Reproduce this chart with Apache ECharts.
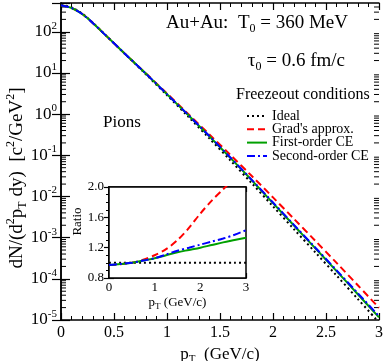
<!DOCTYPE html>
<html>
<head>
<meta charset="utf-8">
<script src="https://cdn.jsdelivr.net/npm/echarts@6/dist/echarts.min.js"></script>
<style>
  html, body { margin: 0; padding: 0; background: #fff; }
  #chart { width: 386px; height: 361px; }
</style>
</head>
<body>
<div id="chart"></div>
<script>
// spectra, main panel
var pT = [0, 0.1, 0.2, 0.3, 0.4, 0.6, 0.8, 1.0, 1.2, 1.4, 1.6, 1.8, 2.0, 2.2, 2.4, 2.6, 2.8, 3.0];
var idealSpec = [457, 389, 275, 166, 93.3, 29.5, 9.33, 2.88, 0.871, 0.257, 0.0741, 0.0209, 5.75e-3, 1.58e-3, 4.37e-4, 1.20e-4, 3.24e-5, 8.7e-6];
var gradSpec = [443, 379, 270, 164, 92.8, 29.8, 9.80, 3.17, 1.01, 0.321, 0.101, 0.0314, 9.49e-3, 2.83e-3, 8.35e-4, 2.44e-4, 6.97e-5, 1.98e-5];
var firstSpec = [443, 379, 270, 164, 92.8, 29.8, 9.66, 3.05, 0.949, 0.289, 0.0856, 0.0247, 6.9e-3, 1.94e-3, 5.48e-4, 1.54e-4, 4.23e-5, 1.16e-5];
var secondSpec = [443, 379, 270, 164, 92.8, 29.8, 9.66, 3.05, 0.958, 0.293, 0.0874, 0.0253, 7.13e-3, 2.01e-3, 5.68e-4, 1.61e-4, 4.47e-5, 1.24e-5];

// ratio, inset
var pTRatio = [0, 0.25, 0.5, 0.75, 1, 1.25, 1.5, 1.75, 2, 2.25, 2.5, 2.75, 3];
var idealRatio = [1, 1, 1, 1, 1, 1, 1, 1, 1, 1, 1, 1, 1];
var gradRatio = [0.97, 0.98, 1.0, 1.04, 1.10, 1.18, 1.30, 1.46, 1.65, 1.82, 1.97, 2.12, 2.28];
var firstRatio = [0.97, 0.985, 1.0, 1.03, 1.06, 1.10, 1.14, 1.17, 1.20, 1.235, 1.27, 1.30, 1.33];
var secondRatio = [0.97, 0.985, 1.0, 1.03, 1.06, 1.11, 1.16, 1.20, 1.24, 1.28, 1.32, 1.37, 1.43];

var legendNames = ['Ideal', "Grad's approx.", 'First-order CE', 'Second-order CE'];

// minor ticks of the log axis (2..9 per decade)
var minorVals = [];
for (var e = -5; e <= 2; e++) {
    for (var k = 2; k <= 9; k++) {
        var v = k * Math.pow(10, e);
        if (v < 500) minorVals.push([0, v]);
    }
}

var FONT = 'Liberation Serif';

function zip(xs, ys) {
    var out = [];
    for (var i = 0; i < xs.length; i++) out.push([xs[i], ys[i]]);
    return out;
}

var styles = [
    { color: '#000000', type: [2, 3] },
    { color: '#ff0000', type: [7, 4] },
    { color: '#00a000', type: 'solid' },
    { color: '#0000ff', type: [8, 3, 2, 3] }
];

var myChart = echarts.init(document.getElementById('chart'));

var subRich = {
    b: { fontSize: 17, fontFamily: FONT, color: '#000' },
    sup: { fontSize: 11, fontFamily: FONT, color: '#000', padding: [0, 0, 12, 0] },
    sub: { fontSize: 11, fontFamily: FONT, color: '#000', padding: [10, 0, 0, 0] }
};
var nameRich = {
    b: { fontSize: 19, fontFamily: FONT, color: '#000' },
    sup: { fontSize: 12, fontFamily: FONT, color: '#000', padding: [0, 0, 13, 0] },
    sub: { fontSize: 12, fontFamily: FONT, color: '#000', padding: [11, 0, 0, 0] }
};
var subRichSmall = {
    b: { fontSize: 13, fontFamily: FONT, color: '#000' },
    sub: { fontSize: 9, fontFamily: FONT, color: '#000', padding: [8, 0, 0, 0] }
};

function logLabel(v) {
    var l = Math.log10(v);
    var n = Math.round(l);
    if (Math.abs(l - n) > 1e-6) return '';
    return '{b|10}{sup|' + n + '}';
}

var axisLine = { lineStyle: { color: '#000', width: 1.5 } };

var series = [];
var specs = [idealSpec, gradSpec, firstSpec, secondSpec];
var ratios = [idealRatio, gradRatio, firstRatio, secondRatio];
for (var i = 0; i < 4; i++) {
    series.push({
        name: legendNames[i],
        type: 'line',
        xAxisIndex: 0,
        yAxisIndex: 0,
        data: zip(pT, specs[i]),
        smooth: 0.3,
        symbol: 'none',
        lineStyle: { color: styles[i].color, type: styles[i].type, width: 2 },
        itemStyle: { color: styles[i].color },
        z: 3 + i
    });
}
for (var i = 0; i < 4; i++) {
    series.push({
        name: 'ratio ' + i,
        type: 'line',
        xAxisIndex: 2,
        yAxisIndex: 2,
        data: zip(pTRatio, ratios[i]),
        smooth: 0.3,
        symbol: 'none',
        lineStyle: { color: styles[i].color, type: styles[i].type, width: 2 },
        z: 3 + i
    });
}
series.push({
    type: 'custom',
    xAxisIndex: 0,
    yAxisIndex: 0,
    data: minorVals,
    silent: true,
    renderItem: function(params, api) {
        var v = api.value(1);
        var l = api.coord([0, v]);
        var r = api.coord([3, v]);
        return {
            type: 'group',
            children: [
                { type: 'line', shape: { x1: l[0], y1: l[1], x2: l[0] + 5, y2: l[1] }, style: { stroke: '#000', lineWidth: 1 } },
                { type: 'line', shape: { x1: r[0] - 5, y1: r[1], x2: r[0], y2: r[1] }, style: { stroke: '#000', lineWidth: 1 } }
            ]
        };
    }
});

var option = {
    animation: false,
    backgroundColor: '#fff',
    grid: [
        { left: 61, top: 3, right: 7, bottom: 41, outerBoundsMode: 'none', containLabel: false },
        { left: 109, top: 187, right: 140, bottom: 83, outerBoundsMode: 'none', containLabel: false,
          show: true, backgroundColor: '#fff', borderColor: '#000', borderWidth: 1.5, z: 1 }
    ],
    legend: {
        data: legendNames,
        orient: 'vertical',
        left: 246,
        top: 109,
        padding: 0,
        itemWidth: 20,
        itemHeight: 8,
        itemGap: -0.7,
        selectedMode: false,
        itemStyle: { opacity: 0 },
        textStyle: { fontFamily: FONT, fontSize: 14, color: '#000', lineHeight: 12 }
    },
    xAxis: [
        {
            type: 'value', gridIndex: 0, min: 0, max: 3, interval: 0.5, position: 'bottom',
            axisLine: axisLine,
            axisTick: { inside: true, length: 7, lineStyle: { color: '#000', width: 1.2 } },
            minorTick: { show: true, splitNumber: 5, length: 4, lineStyle: { color: '#000', width: 1 } },
            splitLine: { show: false },
            axisLabel: { fontFamily: FONT, fontSize: 16, color: '#000', margin: 5 },
            name: '{b|p}{sub|T}{b|  (GeV/c)}',
            nameLocation: 'middle',
            nameGap: 16,
            nameTextStyle: { rich: subRich }
        },
        {
            type: 'value', gridIndex: 0, min: 0, max: 3, interval: 0.5, position: 'top',
            axisLine: axisLine,
            axisTick: { inside: true, length: 7, lineStyle: { color: '#000', width: 1.2 } },
            minorTick: { show: true, splitNumber: 5, length: 4, lineStyle: { color: '#000', width: 1 } },
            splitLine: { show: false },
            axisLabel: { show: false }
        },
        {
            type: 'value', gridIndex: 1, min: 0, max: 3, interval: 1, position: 'bottom',
            axisLine: axisLine,
            axisTick: { inside: true, length: 5, lineStyle: { color: '#000', width: 1.2 } },
            minorTick: { show: true, splitNumber: 5, length: 3, lineStyle: { color: '#000', width: 1 } },
            splitLine: { show: false },
            axisLabel: { fontFamily: FONT, fontSize: 13, color: '#000', margin: 3 },
            name: '{b|p}{sub|T}{b| (GeV/c)}',
            nameLocation: 'middle',
            nameGap: 16,
            nameTextStyle: { rich: subRichSmall }
        },
        {
            type: 'value', gridIndex: 1, min: 0, max: 3, interval: 1, position: 'top',
            axisLine: axisLine,
            axisTick: { inside: true, length: 5, lineStyle: { color: '#000', width: 1.2 } },
            minorTick: { show: true, splitNumber: 5, length: 3, lineStyle: { color: '#000', width: 1 } },
            splitLine: { show: false },
            axisLabel: { show: false }
        }
    ],
    yAxis: [
        {
            type: 'log', gridIndex: 0, min: 1e-5, max: 500, splitNumber: 8, position: 'left',
            axisLine: axisLine,
            axisTick: { inside: true, length: 9, lineStyle: { color: '#000', width: 1.2 } },
            splitLine: { show: false },
            axisLabel: { formatter: logLabel, margin: 4, rich: subRich }
        },
        {
            type: 'log', gridIndex: 0, min: 1e-5, max: 500, splitNumber: 8, position: 'right',
            axisLine: axisLine,
            axisTick: { inside: true, length: 9, lineStyle: { color: '#000', width: 1.2 } },
            splitLine: { show: false },
            axisLabel: { show: false }
        },
        {
            type: 'value', gridIndex: 1, min: 0.8, max: 2.0, interval: 0.4, position: 'left',
            axisLine: axisLine,
            axisTick: { inside: true, length: 5, lineStyle: { color: '#000', width: 1.2 } },
            minorTick: { show: true, splitNumber: 4, length: 3, lineStyle: { color: '#000', width: 1 } },
            splitLine: { show: false },
            axisLabel: { fontFamily: FONT, fontSize: 13, color: '#000', margin: 5, formatter: function(v) { return v.toFixed(1); } },
            name: 'Ratio',
            nameLocation: 'middle',
            nameGap: 23,
            nameRotate: 90,
            nameTextStyle: { fontFamily: FONT, fontSize: 13, color: '#000', padding: [0, 0, 0, 22] }
        },
        {
            type: 'value', gridIndex: 1, min: 0.8, max: 2.0, interval: 0.4, position: 'right',
            axisLine: axisLine,
            axisTick: { inside: true, length: 5, lineStyle: { color: '#000', width: 1.2 } },
            minorTick: { show: true, splitNumber: 4, length: 3, lineStyle: { color: '#000', width: 1 } },
            splitLine: { show: false },
            axisLabel: { show: false }
        }
    ],
    graphic: [
        {
            // y axis title
            type: 'text', x: 17, y: 178, rotation: Math.PI / 2,
            style: {
                text: '{b|dN/(d}{sup|2}{b|p}{sub|T}{b| dy)  [c}{sup|2}{b|/GeV}{sup|2}{b|]}',
                align: 'center', verticalAlign: 'middle',
                rich: nameRich
            }
        },
        {
            type: 'text', right: 38, top: 14,
            style: {
                text: '{b|Au+Au:  T}{sub|0}{b| = 360 MeV}', fill: '#000',
                rich: {
                    b: { fontSize: 19, fontFamily: FONT, color: '#000' },
                    sub: { fontSize: 12, fontFamily: FONT, color: '#000', padding: [11, 0, 0, 0] }
                }
            }
        },
        {
            type: 'text', right: 41, top: 52,
            style: {
                text: '{b|\u03c4}{sub|0}{b| = 0.6 fm/c}', fill: '#000',
                rich: {
                    b: { fontSize: 19, fontFamily: FONT, color: '#000' },
                    sub: { fontSize: 12, fontFamily: FONT, color: '#000', padding: [11, 0, 0, 0] }
                }
            }
        },
        {
            type: 'text', left: 236, top: 87,
            style: { text: 'Freezeout conditions', fill: '#000', font: '16px "Liberation Serif"' }
        },
        {
            type: 'text', left: 103, top: 114,
            style: { text: 'Pions', fill: '#000', font: '17px "Liberation Serif"' }
        }
    ],
    series: series
};

myChart.setOption(option);
</script>
</body>
</html>
